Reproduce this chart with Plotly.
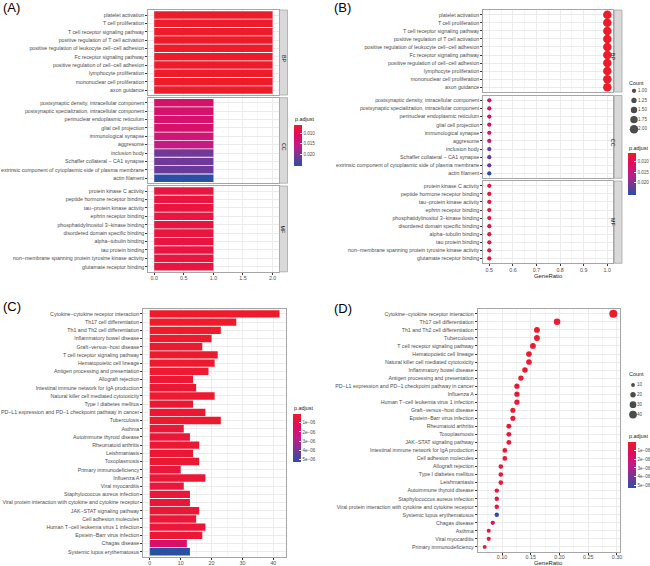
import plotly.graph_objects as go

W, H = 650, 566
FONT = "Liberation Sans"

# ---------------- GO enrichment (panels A, B) ----------------
bp_terms = ["platelet activation", "T cell proliferation", "T cell receptor signaling pathway",
            "positive regulation of T cell activation",
            "positive regulation of leukocyte cell\u2212cell adhesion", "Fc receptor signaling pathway",
            "positive regulation of cell\u2212cell adhesion", "lymphocyte proliferation",
            "mononuclear cell proliferation", "axon guidance"]
bp_count = [2, 2, 2, 2, 2, 2, 2, 2, 2, 2]
bp_ratio = [1.0, 1.0, 1.0, 1.0, 1.0, 1.0, 1.0, 1.0, 1.0, 1.0]
bp_padj = [0.0060, 0.0060, 0.0060, 0.0060, 0.0060, 0.0060, 0.0060, 0.0060, 0.0060, 0.0060]

cc_terms = ["postsynaptic density, intracellular component",
            "postsynaptic specialization, intracellular component",
            "perinuclear endoplasmic reticulum", "glial cell projection", "immunological synapse",
            "aggresome", "inclusion body", "Schaffer collateral \u2212 CA1 synapse",
            "extrinsic component of cytoplasmic side of plasma membrane", "actin filament"]
cc_count = [1, 1, 1, 1, 1, 1, 1, 1, 1, 1]
cc_ratio = [0.5, 0.5, 0.5, 0.5, 0.5, 0.5, 0.5, 0.5, 0.5, 0.5]
cc_padj = [0.0125, 0.0125, 0.0125, 0.0125, 0.0140, 0.0155, 0.0215, 0.0215, 0.0218, 0.0257]

mf_terms = ["protein kinase C activity", "peptide hormone receptor binding",
            "tau\u2212protein kinase activity", "ephrin receptor binding",
            "phosphatidylinositol 3\u2212kinase binding", "disordered domain specific binding",
            "alpha\u2212tubulin binding", "tau protein binding",
            "non\u2212membrane spanning protein tyrosine kinase activity", "glutamate receptor binding"]
mf_count = [1, 1, 1, 1, 1, 1, 1, 1, 1, 1]
mf_ratio = [0.5, 0.5, 0.5, 0.5, 0.5, 0.5, 0.5, 0.5, 0.5, 0.5]
mf_padj = [0.0080, 0.0080, 0.0080, 0.0080, 0.0080, 0.0080, 0.0080, 0.0080, 0.0080, 0.0080]

go_facets = ["BP", "CC", "MF"]

# ---------------- KEGG enrichment (panels C, D) ----------------
kegg_terms = ["Cytokine\u2212cytokine receptor interaction", "Th17 cell differentiation",
              "Th1 and Th2 cell differentiation", "Inflammatory bowel disease",
              "Graft\u2212versus\u2212host disease", "T cell receptor signaling pathway",
              "Hematopoietic cell lineage", "Antigen processing and presentation",
              "Allograft rejection", "Intestinal immune network for IgA production",
              "Natural killer cell mediated cytotoxicity", "Type I diabetes mellitus",
              "PD\u2212L1 expression and PD\u22121 checkpoint pathway in cancer", "Tuberculosis",
              "Asthma", "Autoimmune thyroid disease", "Rheumatoid arthritis", "Leishmaniasis",
              "Toxoplasmosis", "Primary immunodeficiency", "Influenza A", "Viral myocarditis",
              "Staphylococcus aureus infection",
              "Viral protein interaction with cytokine and cytokine receptor",
              "JAK\u2212STAT signaling pathway", "Cell adhesion molecules",
              "Human T\u2212cell leukemia virus 1 infection", "Epstein\u2212Barr virus infection",
              "Chagas disease", "Systemic lupus erythematosus"]
kegg_count = [42, 28, 23, 20, 17, 22, 21, 19, 14, 15, 21, 14, 18, 23, 11, 13, 16, 14, 16, 10,
              18, 11, 13, 13, 16, 15, 18, 17, 12, 13]
kegg_padj = [3e-8, 4e-8, 5e-8, 8e-8, 2e-7, 8e-8, 1e-7, 1.5e-7, 3e-7, 3e-7, 1.5e-7, 3e-7, 2.5e-7,
             8e-8, 4e-7, 4e-7, 2.5e-7, 3e-7, 2.5e-7, 5e-7, 3e-7, 5e-7, 4e-7, 4.5e-7, 3e-7, 4e-7,
             4e-7, 3.5e-7, 1.7e-6, 5.3e-6]

dot_terms = ["Cytokine\u2212cytokine receptor interaction", "Th17 cell differentiation",
             "Th1 and Th2 cell differentiation", "Tuberculosis", "T cell receptor signaling pathway",
             "Hematopoietic cell lineage", "Natural killer cell mediated cytotoxicity",
             "Inflammatory bowel disease", "Antigen processing and presentation",
             "PD\u2212L1 expression and PD\u22121 checkpoint pathway in cancer", "Influenza A",
             "Human T\u2212cell leukemia virus 1 infection", "Graft\u2212versus\u2212host disease",
             "Epstein\u2212Barr virus infection", "Rheumatoid arthritis", "Toxoplasmosis",
             "JAK\u2212STAT signaling pathway", "Intestinal immune network for IgA production",
             "Cell adhesion molecules", "Allograft rejection", "Type I diabetes mellitus",
             "Leishmaniasis", "Autoimmune thyroid disease", "Staphylococcus aureus infection",
             "Viral protein interaction with cytokine and cytokine receptor",
             "Systemic lupus erythematosus", "Chagas disease", "Asthma", "Viral myocarditis",
             "Primary immunodeficiency"]
dot_ratio = [0.2937, 0.1958, 0.1608, 0.1608, 0.1538, 0.1469, 0.1469, 0.1399, 0.1329, 0.1259,
             0.1259, 0.1259, 0.1189, 0.1189, 0.1119, 0.1119, 0.1119, 0.1049, 0.1049, 0.0979,
             0.0979, 0.0979, 0.0909, 0.0909, 0.0909, 0.0909, 0.0839, 0.0769, 0.0769, 0.0699]

go_count_legend = [1.00, 1.25, 1.50, 1.75, 2.00]
kegg_count_legend = [10, 20, 30, 40]
go_cbar_ticks = [0.010, 0.015, 0.020]
go_cbar_labels = ["0.010", "0.015", "0.020"]
kegg_cbar_ticks = [1e-6, 2e-6, 3e-6, 4e-6, 5e-6]
kegg_cbar_labels = ["1e\u221206", "2e\u221206", "3e\u221206", "4e\u221206", "5e\u221206"]

# ---------------- styling helpers ----------------
# colour scale runs from blue (largest p.adjust) to red (smallest p.adjust); the colour
# value is the negated p.adjust so that the colour bar reads red at the top like ggplot.
COLORSCALE = [[0.0, "#2A4FA3"], [0.25, "#7A3597"], [0.5, "#C11C87"],
              [0.75, "#DF0C5E"], [1.0, "#EE1B2B"]]
BORDER = "#A6A6A6"
GRID = "#EBEBEB"
MINOR = "#F5F5F5"
TXT = "#4D4D4D"
TICK_SIZE = 5.25
XTICK_SIZE = 5.3


def dx(a, b):
    return [a / W, b / W]


def dy(top, bottom):
    return [1 - bottom / H, 1 - top / H]


def neg(vals):
    return [-v for v in vals]


def base_axis(size=TICK_SIZE):
    return dict(showline=True, linecolor=BORDER, linewidth=1, mirror=True, automargin=False,
                showgrid=True, gridcolor=GRID, gridwidth=0.8, zeroline=False,
                ticks="outside", ticklen=2, tickwidth=0.7, tickcolor="#333333",
                tickfont=dict(size=size, color=TXT, family=FONT))


fig = go.Figure()
layout = dict(template="none", width=W, height=H,
              margin=dict(l=0, r=0, t=0, b=0, pad=0, autoexpand=False),
              paper_bgcolor="white", plot_bgcolor="white", showlegend=False,
              font=dict(family=FONT, color=TXT))
shapes = []
annotations = []

go_terms = [bp_terms, cc_terms, mf_terms]
go_counts = [bp_count, cc_count, mf_count]
go_ratios = [bp_ratio, cc_ratio, mf_ratio]
go_padjs = [bp_padj, cc_padj, mf_padj]
go_all_p = bp_padj + cc_padj + mf_padj

A_x = (148.3, 278.5)
A_rows = [(10, 95), (97.7, 183.2), (186, 271.8)]
A_strip = (279.5, 287.5)
B_x = (483.3, 613.3)
B_rows = [(10, 92), (95.5, 178.3), (181, 263.3)]
B_strip = (614.3, 622)
GO_SIZEREF = 0.235

for i in range(3):
    n = len(go_terms[i])
    # ---- A: bars
    ia = i + 1
    xa = "x" if ia == 1 else f"x{ia}"
    ya = "y" if ia == 1 else f"y{ia}"
    fig.add_trace(go.Bar(x=go_counts[i], y=go_terms[i], orientation="h", xaxis=xa, yaxis=ya,
                         width=0.9,
                         marker=dict(color=neg(go_padjs[i]), coloraxis="coloraxis",
                                     line=dict(width=0))))
    xax = base_axis(XTICK_SIZE)
    xax.update(domain=dx(*A_x), anchor=ya, range=[-0.1, 2.1], tickvals=[0, 0.5, 1.0, 1.5, 2.0],
               ticktext=["0.0", "0.5", "1.0", "1.5", "2.0"], ticklabelstandoff=-1,
               minor=dict(dtick=0.25, tick0=0, showgrid=True, gridcolor=MINOR, gridwidth=0.6))
    if i < 2:
        xax.update(showticklabels=False, ticks="")
    yax = base_axis()
    yax.update(domain=dy(*A_rows[i]), anchor=xa, type="category", categoryorder="array",
               categoryarray=go_terms[i], range=[n - 0.4, -0.6])
    layout["xaxis" if ia == 1 else f"xaxis{ia}"] = xax
    layout["yaxis" if ia == 1 else f"yaxis{ia}"] = yax
    shapes.append(dict(type="rect", xref="paper", yref="paper",
                       x0=A_strip[0] / W, x1=A_strip[1] / W,
                       y0=dy(*A_rows[i])[0], y1=dy(*A_rows[i])[1],
                       fillcolor="#D9D9D9", line=dict(color=BORDER, width=0.8), layer="above"))
    annotations.append(dict(text=go_facets[i], xref="paper", yref="paper",
                            x=(A_strip[0] + A_strip[1]) / 2 / W,
                            y=sum(dy(*A_rows[i])) / 2, showarrow=False, textangle=90,
                            font=dict(size=5.4, color="#1A1A1A", family=FONT)))

    # ---- B: dots
    ib = i + 4
    xb, yb = f"x{ib}", f"y{ib}"
    fig.add_trace(go.Scatter(x=go_ratios[i], y=go_terms[i], mode="markers", xaxis=xb, yaxis=yb,
                             marker=dict(color=neg(go_padjs[i]), coloraxis="coloraxis2",
                                         size=go_counts[i], sizemode="diameter",
                                         sizeref=GO_SIZEREF, line=dict(width=0), opacity=1)))
    xax = base_axis(XTICK_SIZE)
    xax.update(domain=dx(*B_x), anchor=yb, range=[0.4746, 1.0254],
               tickvals=[0.5, 0.6, 0.7, 0.8, 0.9, 1.0], tickformat=".1f", ticklabelstandoff=-1,
               minor=dict(dtick=0.05, tick0=0, showgrid=True, gridcolor=MINOR, gridwidth=0.6))
    if i < 2:
        xax.update(showticklabels=False, ticks="")
    yax = base_axis()
    yax.update(domain=dy(*B_rows[i]), anchor=xb, type="category", categoryorder="array",
               categoryarray=go_terms[i], range=[n - 0.4, -0.6])
    layout[f"xaxis{ib}"] = xax
    layout[f"yaxis{ib}"] = yax
    shapes.append(dict(type="rect", xref="paper", yref="paper",
                       x0=B_strip[0] / W, x1=B_strip[1] / W,
                       y0=dy(*B_rows[i])[0], y1=dy(*B_rows[i])[1],
                       fillcolor="#D9D9D9", line=dict(color=BORDER, width=0.8), layer="above"))
    annotations.append(dict(text=go_facets[i], xref="paper", yref="paper",
                            x=(B_strip[0] + B_strip[1]) / 2 / W,
                            y=sum(dy(*B_rows[i])) / 2, showarrow=False, textangle=90,
                            font=dict(size=5.4, color="#1A1A1A", family=FONT)))

# ---- C: KEGG bars
nk = len(kegg_terms)
fig.add_trace(go.Bar(x=kegg_count, y=kegg_terms, orientation="h", xaxis="x7", yaxis="y7",
                     width=0.9,
                     marker=dict(color=neg(kegg_padj), coloraxis="coloraxis3",
                                 line=dict(width=0))))
xax = base_axis(XTICK_SIZE)
xax.update(domain=dx(143.3, 286), anchor="y7", range=[-2.1, 44.1], tickvals=[0, 10, 20, 30, 40],
           ticklabelstandoff=-1,
           minor=dict(dtick=5, tick0=0, showgrid=True, gridcolor=MINOR, gridwidth=0.6))
yax = base_axis()
yax.update(domain=dy(309, 556.7), anchor="x7", type="category", categoryorder="array",
           categoryarray=kegg_terms, range=[nk - 0.4, -0.6])
layout["xaxis7"] = xax
layout["yaxis7"] = yax

# ---- D: KEGG dots
padj_lookup = dict(zip(kegg_terms, kegg_padj))
count_lookup = dict(zip(kegg_terms, kegg_count))
dot_padj = [padj_lookup[t] for t in dot_terms]
dot_count = [count_lookup[t] for t in dot_terms]
D_SIZEREF = 1.32
fig.add_trace(go.Scatter(x=dot_ratio, y=dot_terms, mode="markers", xaxis="x8", yaxis="y8",
                         marker=dict(color=neg(dot_padj), coloraxis="coloraxis4", size=dot_count,
                                     sizemode="area", sizeref=D_SIZEREF, line=dict(width=0),
                                     opacity=1)))
xax = base_axis(XTICK_SIZE)
xax.update(domain=dx(477.7, 620), anchor="y8", range=[0.0577, 0.3053],
           tickvals=[0.10, 0.15, 0.20, 0.25, 0.30], tickformat=".2f", ticklabelstandoff=-2,
           minor=dict(dtick=0.025, tick0=0, showgrid=True, gridcolor=MINOR, gridwidth=0.6))
yax = base_axis()
yax.update(domain=dy(309, 551.7), anchor="x8", type="category", categoryorder="array",
           categoryarray=dot_terms, range=[nk - 0.4, -0.6])
layout["xaxis8"] = xax
layout["yaxis8"] = yax

# ---- Count legends (B and D)
hidden = dict(visible=False, showgrid=False, zeroline=False, automargin=False)
fig.add_trace(go.Scatter(x=[0] * len(go_count_legend), y=list(range(len(go_count_legend))),
                         mode="markers", xaxis="x9", yaxis="y9",
                         marker=dict(color="black", size=go_count_legend, sizemode="diameter",
                                     sizeref=GO_SIZEREF, line=dict(width=0))))
fig.add_trace(go.Scatter(x=[4] * len(go_count_legend), y=list(range(len(go_count_legend))),
                         mode="text", xaxis="x9", yaxis="y9",
                         text=[f"{v:.2f}" for v in go_count_legend], textposition="middle right",
                         textfont=dict(size=4.6, color=TXT, family=FONT)))
layout["xaxis9"] = dict(hidden, domain=dx(629, 649), anchor="y9", range=[-5, 15])
layout["yaxis9"] = dict(hidden, domain=dy(86, 134), anchor="x9", range=[4.5, -0.5])

fig.add_trace(go.Scatter(x=[0] * len(kegg_count_legend), y=list(range(len(kegg_count_legend))),
                         mode="markers", xaxis="x10", yaxis="y10",
                         marker=dict(color="black", size=kegg_count_legend, sizemode="area",
                                     sizeref=D_SIZEREF, line=dict(width=0))))
fig.add_trace(go.Scatter(x=[4] * len(kegg_count_legend), y=list(range(len(kegg_count_legend))),
                         mode="text", xaxis="x10", yaxis="y10",
                         text=[str(v) for v in kegg_count_legend], textposition="middle right",
                         textfont=dict(size=4.6, color=TXT, family=FONT)))
layout["xaxis10"] = dict(hidden, domain=dx(628, 648), anchor="y10", range=[-5, 15])
layout["yaxis10"] = dict(hidden, domain=dy(380, 419.5), anchor="x10", range=[3.5, -0.5])


# ---- colour axes / colour bars
def cbar(x_px, top_px, bottom_px, vals, texts):
    return dict(x=x_px / W, xanchor="left", xpad=0, y=1 - top_px / H, yanchor="top", ypad=0,
                len=bottom_px - top_px, lenmode="pixels", thickness=8, thicknessmode="pixels",
                outlinewidth=0, tickvals=neg(vals), ticktext=texts, ticks="inside", ticklen=2,
                tickcolor="white", tickwidth=0.8,
                tickfont=dict(size=4.6, color=TXT, family=FONT))


def caxis(pvals, bar):
    return dict(colorscale=COLORSCALE, cmin=-max(pvals), cmax=-min(pvals), colorbar=bar)


layout["coloraxis"] = caxis(go_all_p, cbar(294, 125, 166, go_cbar_ticks, go_cbar_labels))
layout["coloraxis2"] = caxis(go_all_p, cbar(628, 153, 195, go_cbar_ticks, go_cbar_labels))
layout["coloraxis3"] = caxis(kegg_padj, cbar(293, 414, 462, kegg_cbar_ticks, kegg_cbar_labels))
layout["coloraxis4"] = caxis(kegg_padj, cbar(628, 442, 488, kegg_cbar_ticks, kegg_cbar_labels))


def label(text, x_px, y_px, size=6, color="#222222", anchor="left"):
    annotations.append(dict(text=text, xref="paper", yref="paper", x=x_px / W, y=1 - y_px / H,
                            xanchor=anchor, yanchor="middle", showarrow=False,
                            font=dict(size=size, color=color, family=FONT)))


label("p.adjust", 293, 119, 5.4)
label("p.adjust", 627, 148, 5.4)
label("p.adjust", 292, 408, 5.4)
label("p.adjust", 627, 436, 5.4)
label("Count", 627, 83, 5.4)
label("Count", 627, 374, 5.4)
label("GeneRatio", (B_x[0] + B_x[1]) / 2, 276.5, 5.9, "#222222", "center")
label("GeneRatio", (477.7 + 620) / 2, 563.2, 5.9, "#222222", "center")
label("(A)", 1, 8, 13, "black")
label("(B)", 332, 8, 13, "black")
label("(C)", 1, 306, 13, "black")
label("(D)", 332, 308, 13, "black")

layout["shapes"] = shapes
layout["annotations"] = annotations
fig.update_layout(**layout)
fig.write_html("out.html", config={"displayModeBar": False},
               post_script="document.body.style.margin='0px';document.body.style.padding='0px';")
